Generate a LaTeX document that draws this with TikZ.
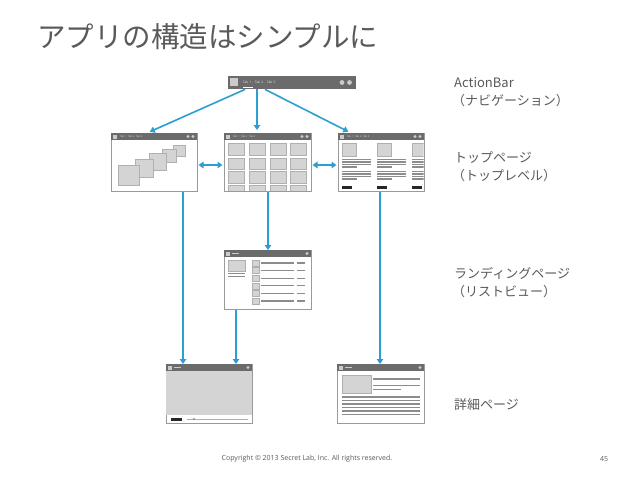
\documentclass[tikz,border=0pt]{standalone}
\usepackage{fontspec}
\setmainfont{Noto Sans CJK JP}
\newfontfamily\latfont{Open Sans}
\usetikzlibrary{arrows.meta,calc}
\definecolor{arrblue}{HTML}{2A9FD0}
\definecolor{bardark}{HTML}{6B6B6B}
\definecolor{frameg}{HTML}{9A9A9A}
\definecolor{boxg}{HTML}{D4D4D4}
\definecolor{boxedge}{HTML}{B0B0B0}
\definecolor{lineg}{HTML}{8C8C8C}
\definecolor{txtg}{HTML}{5A5A5A}
\tikzset{
 scr/.style={draw=frameg, fill=white, line width=0.7pt, anchor=north west, inner sep=0, outer sep=0},
 bar/.style={fill=bardark},
 ico/.style={fill=white!65!bardark},
 gbox/.style={fill=boxg, draw=boxedge, line width=0.5pt},
 ln/.style={draw=lineg, line width=1.2pt},
 arr/.style={draw=arrblue, line width=1.6pt, -{Triangle[width=6.5pt,length=5pt]}},
 darr/.style={draw=arrblue, line width=1.6pt, {Triangle[width=6.5pt,length=5pt]}-{Triangle[width=6.5pt,length=5pt]}},
 lbl/.style={anchor=west, inner sep=0, text=txtg, font=\fontsize{13}{15}\selectfont},
 tabt/.style={inner sep=0, text=white!85!bardark, font=\latfont\fontsize{2.4}{3}\selectfont, anchor=west},
}
% title bar of a screen: x, y, width
\newcommand\mybarbase[3]{%
 \fill[bar] (#1,#2) rectangle (#1+#3,#2+7);
 \fill[ico] (#1+1.5,#2+1.5) rectangle (#1+5.5,#2+5.5);
 \fill[ico] (#1+#3-4,#2+3.5) circle (1.6);}
\newcommand\mytabs[3]{%
 \fill[ico] (#1+#3-9,#2+3.5) circle (1.6);
 \node[tabt] at (#1+9,#2+3.5) {Tab 1};
 \node[tabt] at (#1+17,#2+3.5) {Tab 2};
 \node[tabt] at (#1+25,#2+3.5) {Tab 3};}
\newcommand\mylabelbar[2]{%
 \fill[ico] (#1+8,#2+3) rectangle (#1+15,#2+4);}
\begin{document}
\begin{tikzpicture}[x=1pt,y=-1pt]
\useasboundingbox (0,0) rectangle (638,479);
\fill[white] (0,0) rectangle (638,479);

% title
\node[anchor=west, inner sep=0, text=txtg, font=\fontsize{28.5}{30}\selectfont] (title) at (37,37) {アプリの構造はシンプルに};

% action bar
\node[fill=bardark, minimum width=128, minimum height=13, anchor=north west, inner sep=0] (ab) at (228,76) {};
\fill[ico] (229.5,78) rectangle (237.5,86);
\node[tabt, font=\latfont\fontsize{3.2}{4}\selectfont] at (243,82) {Tab 1};
\node[tabt, font=\latfont\fontsize{3.2}{4}\selectfont] at (255,82) {Tab 2};
\node[tabt, font=\latfont\fontsize{3.2}{4}\selectfont] at (267,82) {Tab 3};
\draw[white, line width=0.6pt] (243,87) -- (253,87);
\fill[ico] (342,82.5) circle (2.4);
\fill[ico] (349.5,82.5) circle (2.4);

% ---------- top left screen
\node[scr, minimum width=86, minimum height=58] (tl) at (111,133) {};
\mybarbase{111}{133}{86}\mytabs{111}{133}{86}
\draw[gbox] (173,145) rectangle (185,156);
\draw[gbox] (162,149) rectangle (176,162);
\draw[gbox] (149,153) rectangle (166,170);
\draw[gbox] (135,159) rectangle (153,177);
\draw[gbox] (118,165) rectangle (139,185);

% ---------- top middle screen
\node[scr, minimum width=87, minimum height=58] (tm) at (224,133) {};
\mybarbase{224}{133}{87}\mytabs{224}{133}{87}
\begin{scope}
\clip (224.5,140) rectangle (310.5,190.6);
\foreach \cx in {228,249,270,290}{
 \foreach \cy/\ch in {143/12,158/11.5,171/12,185/12}{
  \draw[gbox] (\cx,\cy) rectangle (\cx+16,\cy+\ch);
 }}
\end{scope}

% ---------- top right screen
\node[scr, minimum width=86, minimum height=58] (tr) at (338,133) {};
\mybarbase{338}{133}{86}\mytabs{338}{133}{86}
\begin{scope}
\clip (338.5,140) rectangle (423.6,190.6);
\foreach \cx in {342,377,412}{
 \draw[gbox] (\cx,143) rectangle (\cx+14,156);
 \foreach \ly in {159.5,162,164.5,171.5,174,176.5}{\draw[ln] (\cx,\ly) -- (\cx+29,\ly);}
 \draw[ln] (\cx,167) -- (\cx+15,167);
 \draw[ln] (\cx,179) -- (\cx+15,179);
 \fill[black!85] (\cx,186) rectangle (\cx+10,189);
}
\end{scope}

% ---------- landing screen
\node[scr, minimum width=87, minimum height=59] (ld) at (224,250) {};
\mybarbase{224}{250}{87}\mylabelbar{224}{250}
\draw[gbox] (228,260) rectangle (245,271);
\draw[draw=lineg, line width=1pt] (228,273.5) -- (245,273.5);
\draw[draw=lineg, line width=1pt] (228,276.5) -- (245,276.5);
\foreach \i in {0,...,5}{
 \pgfmathsetmacro\ry{260+\i*7.6}
 \draw[gbox] (252,\ry) rectangle (259,\ry+6);
 \draw[draw=lineg, line width=1.1pt] (261,\ry+3) -- (294,\ry+3);
 \draw[draw=lineg, line width=1.1pt] (297,\ry+3) -- (305,\ry+3);
}

% ---------- bottom left screen
\node[scr, minimum width=86, minimum height=59] (bl) at (166,364) {};
\fill[boxg] (166.4,371) rectangle (251.6,415);
\mybarbase{166}{364}{86}\mylabelbar{166}{364}
\fill[black!85] (171,417.5) rectangle (182,420.5);
\draw[lineg!70, line width=0.5pt] (187,419) -- (248,419);
\fill[lineg] (194,419) circle (1.2);

% ---------- bottom right screen
\node[scr, minimum width=87, minimum height=59] (br) at (337,364) {};
\mybarbase{337}{364}{87}\mylabelbar{337}{364}
\draw[gbox] (342,375) rectangle (371,393);
\draw[draw=lineg, line width=1.8pt] (373,379) -- (420,379);
\draw[draw=lineg, line width=1pt] (373,385) -- (420,385);
\draw[draw=lineg, line width=1pt] (373,389) -- (401,389);
\foreach \ly in {397,400.5,404,407.5,411,414.5}{\draw[ln] (342,\ly) -- (420,\ly);}

% ---------- arrows
\draw[arr, shorten >=3pt] ([xshift=17pt]ab.south west) -- ([xshift=36pt]tl.north west);
\draw[arr, shorten >=3pt] ([xshift=29pt]ab.south west) -- ([xshift=33pt]tm.north west);
\draw[arr, shorten >=3pt] ([xshift=37pt]ab.south west) -- ([xshift=13pt]tr.north west);
\draw[darr, shorten <=1.5pt, shorten >=1.5pt] ([yshift=-3pt]tl.east) -- ([yshift=-3pt]tm.west);
\draw[darr, shorten <=1.5pt, shorten >=1.5pt] ([yshift=-3pt]tm.east) -- ([yshift=-3pt]tr.west);
\draw[arr, shorten <=1pt] ([xshift=72pt]tl.south west) -- ([xshift=17pt]bl.north west);
\draw[arr, shorten <=1pt] ([xshift=44pt]tm.south west) -- ([xshift=44pt]ld.north west);
\draw[arr, shorten <=1pt] ([xshift=42pt]tr.south west) -- ([xshift=43pt]br.north west);
\draw[arr, shorten <=1pt] ([xshift=12pt]ld.south west) -- ([xshift=70pt]bl.north west);

% ---------- labels
\node[lbl] (l1) at (454,83) {ActionBar};
\node[lbl] (l2) at (452,101) {（ナビゲーション）};
\node[lbl] (l3) at (454,158) {トップページ};
\node[lbl] (l4) at (452,176) {（トップレベル）};
\node[lbl] (l5) at (454,273) {ランディングページ};
\node[lbl] (l6) at (452,292) {（リストビュー）};
\node[lbl] (l7) at (454,405) {詳細ページ};

% footer
\node[inner sep=0, text=txtg, font=\latfont\fontsize{7}{8}\selectfont] (cp) at (307,459) {Copyright © 2013 Secret Lab, Inc. All rights reserved.};
\node[inner sep=0, text=txtg, font=\latfont\fontsize{7}{8}\selectfont] (pg) at (604,459) {45};
\end{tikzpicture}
\end{document}
